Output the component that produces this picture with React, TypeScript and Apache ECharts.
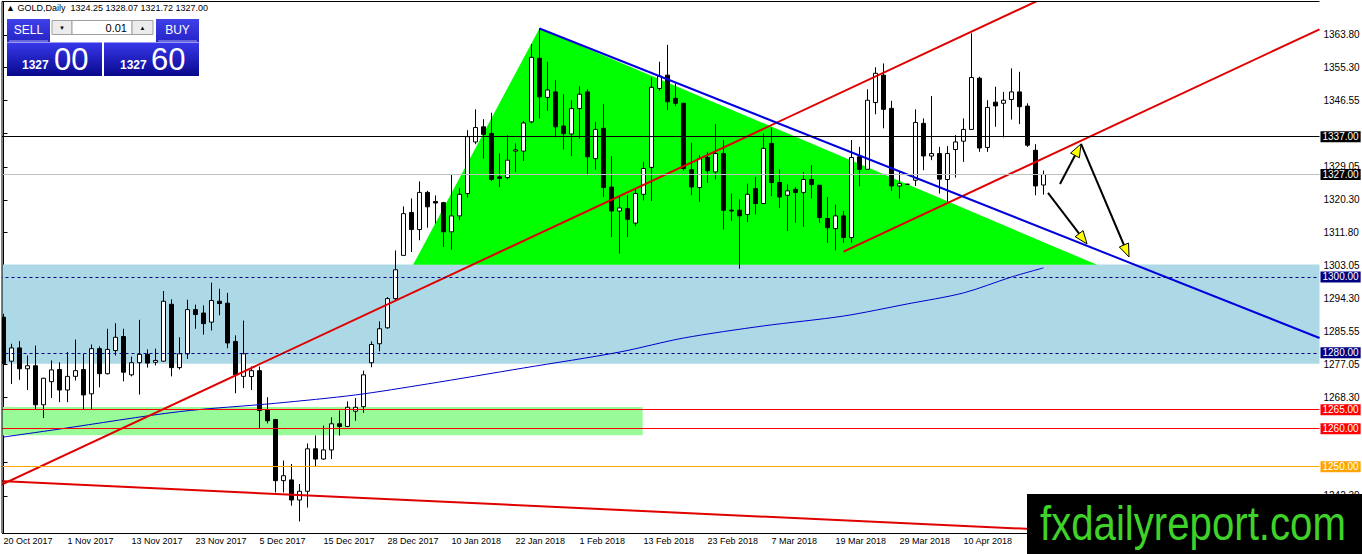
import React, { useEffect, useRef } from "react";
import * as echarts from "echarts";

// date labels, one every 8 daily bars starting at the first bar
const tickLabels = [
  "20 Oct 2017", "1 Nov 2017", "13 Nov 2017", "23 Nov 2017", "5 Dec 2017", "15 Dec 2017",
  "28 Dec 2017", "10 Jan 2018", "22 Jan 2018", "1 Feb 2018", "13 Feb 2018", "23 Feb 2018",
  "7 Mar 2018", "19 Mar 2018", "29 Mar 2018", "10 Apr 2018",
];

const opens = [
  1289.4, 1277.8, 1281.3, 1275.8, 1276.6, 1266.3, 1272.4, 1275.6, 1270.2, 1273.8,
  1275.6, 1269.2, 1281.1, 1274.5, 1280.6, 1284.3, 1274.2, 1277.4, 1279.6, 1277.5,
  1277.8, 1292.8, 1276.1, 1279.75, 1291.4, 1290.5, 1288.1, 1293.6, 1293.1, 1283.0,
  1273.8, 1273.75, 1275.3, 1265.0, 1262.4, 1246.3, 1246.5, 1241.2, 1243.5, 1254.7,
  1252.0, 1254.4, 1261.3, 1260.6, 1264.6, 1265.8, 1277.4, 1282.4, 1286.6, 1294.3,
  1305.7, 1317.0, 1312.5, 1322.3, 1319.9, 1319.6, 1311.9, 1316.1, 1322.0, 1335.6,
  1339.6, 1337.8, 1326.4, 1326.2, 1333.2, 1333.2, 1340.9, 1357.65, 1347.35, 1348.8,
  1339.8, 1337.7, 1344.4, 1348.8, 1331.2, 1339.2, 1323.7, 1317.4, 1318.0, 1314.2,
  1321.8, 1328.9, 1349.7, 1353.2, 1347.1, 1345.8, 1328.3, 1323.6, 1331.5, 1327.7,
  1332.55, 1317.6, 1317.6, 1316.5, 1323.3, 1319.35, 1335.2, 1324.9, 1321.55, 1323.1,
  1322.3, 1325.7, 1324.2, 1315.4, 1312.75, 1316.1, 1310.4, 1331.7, 1328.4, 1346.0,
  1353.2, 1344.45, 1324.0, 1324.45, 1325.5, 1340.5, 1331.9, 1332.55, 1325.7, 1333.6,
  1335.8, 1338.9, 1352.4, 1334.15, 1346.1, 1345.8, 1346.8, 1348.8, 1345.05, 1333.4,
  1324.25,
];

const closes = [
  1277.2, 1281.3, 1275.8, 1276.6, 1266.3, 1273.3, 1275.5, 1270.2, 1273.8, 1275.3,
  1268.9, 1281.1, 1274.5, 1280.9, 1284.1, 1274.9, 1277.4, 1279.6, 1277.3, 1278.0,
  1293.6, 1276.1, 1279.75, 1291.4, 1290.1, 1287.7, 1293.8, 1293.0, 1282.6, 1274.2,
  1279.75, 1275.3, 1264.8, 1262.1, 1246.3, 1247.6, 1241.2, 1243.5, 1254.7, 1252.0,
  1254.4, 1261.3, 1260.6, 1265.65, 1265.65, 1274.2, 1282.2, 1286.35, 1294.3, 1301.9,
  1316.7, 1312.5, 1322.3, 1318.5, 1319.5, 1311.9, 1316.1, 1321.8, 1337.0, 1339.4,
  1337.6, 1325.7, 1326.0, 1330.8, 1333.5, 1340.6, 1357.9, 1347.5, 1349.3, 1339.6,
  1337.8, 1344.4, 1348.2, 1331.7, 1338.9, 1323.6, 1317.4, 1318.2, 1315.2, 1322.0,
  1328.6, 1350.0, 1353.0, 1346.2, 1345.8, 1328.6, 1323.75, 1331.2, 1328.0, 1332.55,
  1317.6, 1317.4, 1316.1, 1321.8, 1319.35, 1333.9, 1324.9, 1321.1, 1322.7, 1322.3,
  1325.7, 1324.4, 1315.7, 1313.0, 1316.1, 1310.4, 1331.5, 1328.4, 1346.6, 1353.7,
  1344.2, 1324.0, 1324.6, 1324.45, 1340.75, 1331.9, 1332.55, 1325.8, 1332.55, 1335.6,
  1338.9, 1352.6, 1334.0, 1344.7, 1345.1, 1346.6, 1348.8, 1344.9, 1334.75, 1324.0,
  1327.0,
];

const lows = [
  1276.7, 1271.8, 1272.9, 1270.2, 1265.0, 1262.8, 1268.1, 1267.0, 1267.0, 1272.7,
  1265.0, 1265.2, 1270.9, 1274.3, 1279.3, 1272.5, 1273.8, 1269.0, 1276.1, 1276.7,
  1277.6, 1273.8, 1275.6, 1278.4, 1286.35, 1284.8, 1285.9, 1289.9, 1281.2, 1269.35,
  1270.7, 1270.2, 1260.2, 1261.4, 1243.2, 1243.2, 1239.7, 1235.55, 1239.2, 1250.0,
  1251.8, 1252.0, 1258.2, 1260.4, 1262.1, 1264.2, 1276.2, 1280.4, 1286.35, 1293.8,
  1305.7, 1306.6, 1309.7, 1313.0, 1314.1, 1307.9, 1307.2, 1315.0, 1320.9, 1335.0,
  1331.2, 1325.3, 1323.7, 1325.7, 1327.7, 1330.6, 1340.5, 1341.8, 1343.8, 1336.8,
  1333.6, 1331.85, 1336.5, 1326.8, 1328.3, 1321.1, 1310.5, 1306.15, 1310.5, 1313.4,
  1320.2, 1320.05, 1349.1, 1344.0, 1345.05, 1328.0, 1321.55, 1319.8, 1324.8, 1325.7,
  1312.5, 1314.8, 1302.2, 1314.5, 1316.5, 1319.3, 1321.3, 1318.2, 1312.1, 1314.3,
  1313.2, 1320.7, 1314.3, 1309.0, 1307.0, 1309.0, 1309.0, 1323.9, 1328.4, 1342.9,
  1339.2, 1322.7, 1320.7, 1324.45, 1324.0, 1328.15, 1330.8, 1322.0, 1319.8, 1326.2,
  1330.35, 1338.9, 1333.0, 1333.0, 1339.6, 1336.8, 1341.5, 1340.3, 1334.3, 1321.55,
  1321.72,
];

const highs = [
  1290.3, 1282.4, 1283.1, 1279.3, 1281.9, 1273.4, 1278.0, 1277.5, 1280.2, 1283.5,
  1279.75, 1282.2, 1281.7, 1286.35, 1287.8, 1286.35, 1279.0, 1288.7, 1280.9, 1281.1,
  1296.3, 1294.1, 1284.1, 1294.0, 1292.7, 1292.5, 1298.5, 1296.9, 1295.8, 1284.6,
  1288.5, 1276.4, 1276.4, 1268.3, 1262.6, 1251.6, 1250.7, 1245.4, 1256.1, 1258.2,
  1260.8, 1263.0, 1264.8, 1267.2, 1268.1, 1275.3, 1283.0, 1288.3, 1294.7, 1307.0,
  1318.6, 1320.7, 1325.2, 1322.7, 1321.5, 1319.8, 1327.1, 1323.5, 1338.7, 1344.2,
  1341.6, 1343.3, 1332.6, 1337.4, 1335.2, 1341.1, 1361.4, 1365.6, 1356.75, 1351.9,
  1348.2, 1346.6, 1350.3, 1349.5, 1340.9, 1345.6, 1331.85, 1321.1, 1321.55, 1323.3,
  1330.35, 1352.6, 1356.75, 1361.2, 1351.05, 1345.9, 1335.4, 1332.1, 1333.0, 1340.3,
  1336.1, 1322.0, 1320.5, 1324.6, 1326.4, 1337.8, 1339.4, 1328.4, 1324.45, 1323.75,
  1327.7, 1329.5, 1324.2, 1321.1, 1319.1, 1317.4, 1336.1, 1334.3, 1349.5, 1355.3,
  1356.3, 1346.45, 1327.7, 1324.45, 1344.2, 1341.8, 1347.7, 1334.3, 1334.5, 1337.4,
  1341.8, 1364.25, 1352.8, 1346.6, 1350.15, 1348.8, 1355.0, 1354.1, 1345.8, 1335.0,
  1328.07,
];

// price scale ticks; the labels hidden behind the level boxes are left out
const yTicks = [
  1363.8, 1355.3, 1346.55, 1337.8, 1329.05, 1320.3, 1311.8, 1303.05,
  1294.3, 1285.55, 1277.05, 1268.3, 1259.55, 1251.05, 1242.3,
];
const yLabels = [
  1363.8, 1355.3, 1346.55, 1329.05, 1320.3, 1311.8, 1303.05,
  1294.3, 1285.55, 1277.05, 1268.3, 1242.3,
];

// horizontal price levels drawn across the chart
const priceLevels = [1337, 1327, 1300, 1280, 1265, 1260, 1250];

// moving average anchors [bar index, price]
const maPoints = [
  [0, 1257.8], [7, 1259.9], [22, 1264.5], [34, 1266.7], [44, 1268.9], [53, 1271.8],
  [65, 1276.0], [77, 1280.2], [85, 1283.9], [95, 1287.1], [105, 1289.7], [113, 1292.9],
  [120, 1295.8], [126, 1300.0], [130, 1302.4],
];

// drawn objects, in [bar index, price]
const blueZone = [1303.3, 1277.1];
const greenZone = [-0.5, 79.9, 1265.7, 1258.3];
const triangle = [[51.2, 1303.2], [67, 1365.6], [136.7, 1303.2]];
const redUpper = [[-0.5, 1245.0], [133, 1376.5]];
const redLower = [[105, 1306.7], [164.5, 1365.3]];
const blueTrend = [[67, 1365.5], [164.5, 1283.9]];
const redBottom = [[-0.5, 1246.2], [140, 1232.4]];
const arrows = [
  [130.56, 1322.16, 135.44, 1308.71],
  [132.06, 1324.53, 134.69, 1335.08],
  [134.69, 1335.08, 140.69, 1305.28],
];

const SLOTS = 165;
const FONT = "Liberation Sans";

function levelStyle(v: number) {
  if (v === 1337) return { line: "#000000", box: "#000000", dashed: false };
  if (v === 1327) return { line: "#c0c0c0", box: "#000000", dashed: false };
  if (v === 1300 || v === 1280) return { line: "#000080", box: "#000080", dashed: true };
  if (v === 1250) return { line: "#ffa500", box: "#ffa500", dashed: false };
  return { line: "#ff0000", box: "#ff0000", dashed: false };
}

export default function App() {
  const chartRef = useRef<HTMLDivElement>(null);

  useEffect(() => {
    document.body.style.margin = "0";
    if (!chartRef.current) return;
    const chart = echarts.init(chartRef.current, null, { renderer: "svg" });

    const cats = Array.from({ length: SLOTS }, (_, i) => String(i));
    const candles = opens.map((o, i) => [o, closes[i], lows[i], highs[i]]);
    const showTick = (i: number) => i % 8 === 0 && i / 8 < tickLabels.length;

    const blueGrad = () =>
      new echarts.graphic.LinearGradient(0, 0, 0, 1, [
        { offset: 0, color: "#3838ec" },
        { offset: 1, color: "#08088c" },
      ]);
    const btnGrad = () =>
      new echarts.graphic.LinearGradient(0, 0, 0, 1, [
        { offset: 0, color: "#4040e8" },
        { offset: 1, color: "#2424c8" },
      ]);

    const trend = (data: number[][], color: string) => ({
      type: "line",
      xAxisIndex: 1,
      data,
      symbol: "none",
      silent: true,
      z: 4,
      lineStyle: { color, width: 2 },
    });

    const option: any = {
      animation: false,
      backgroundColor: "#ffffff",
      textStyle: { fontFamily: FONT },
      grid: { left: -0.5, top: 2, width: 1320, height: 531, outerBoundsMode: "none" },
      xAxis: [
        {
          type: "category",
          data: cats,
          boundaryGap: true,
          axisLine: { lineStyle: { color: "#000", width: 1 } },
          axisTick: {
            alignWithLabel: true,
            interval: (i: number) => showTick(i),
            length: 4,
            lineStyle: { color: "#000" },
          },
          axisLabel: {
            interval: (i: number) => showTick(i),
            formatter: (_v: string, i: number) => tickLabels[i / 8] ?? "",
            align: "left",
            fontSize: 9,
            color: "#000",
            margin: 3,
            fontFamily: FONT,
          },
          splitLine: { show: false },
        },
        { type: "value", min: -0.5, max: SLOTS - 0.5, show: false },
      ],
      yAxis: {
        type: "value",
        position: "right",
        min: 1232.5,
        max: 1372.5,
        axisLine: { show: true, lineStyle: { color: "#000" } },
        axisTick: { show: true, length: 4, customValues: yTicks, lineStyle: { color: "#000" } },
        axisLabel: {
          customValues: yLabels,
          formatter: (v: number) => v.toFixed(2),
          fontSize: 10,
          color: "#000",
          margin: 4,
          fontFamily: FONT,
        },
        splitLine: { show: false },
      },
      series: [
        {
          type: "custom",
          xAxisIndex: 1,
          silent: true,
          clip: true,
          z: 1,
          data: [[0, 1290], [1, 1262], [60, 1320]],
          renderItem: (params: any, api: any) => {
            const i = params.dataIndex;
            if (i === 0) {
              const a = api.coord([-0.5, blueZone[0]]);
              const b = api.coord([SLOTS - 0.5, blueZone[1]]);
              return {
                type: "rect",
                shape: { x: a[0], y: a[1], width: b[0] - a[0], height: b[1] - a[1] },
                style: { fill: "#add8e6" },
              };
            }
            if (i === 1) {
              const a = api.coord([greenZone[0], greenZone[2]]);
              const b = api.coord([greenZone[1], greenZone[3]]);
              return {
                type: "rect",
                shape: { x: a[0], y: a[1], width: b[0] - a[0], height: b[1] - a[1] },
                style: { fill: "#98fb98" },
              };
            }
            return {
              type: "polygon",
              shape: { points: triangle.map((p) => api.coord(p)) },
              style: { fill: "#00ff00" },
            };
          },
        },
        {
          type: "candlestick",
          xAxisIndex: 0,
          data: candles,
          barWidth: 5,
          z: 3,
          itemStyle: {
            color: "#ffffff",
            color0: "#000000",
            borderColor: "#000000",
            borderColor0: "#000000",
            borderWidth: 1,
          },
          markLine: {
            silent: true,
            symbol: ["none", "none"],
            data: priceLevels.map((v) => {
              const s = levelStyle(v);
              return {
                yAxis: v,
                lineStyle: { color: s.line, width: 1, type: s.dashed ? [3, 3] : "solid" },
                label: {
                  show: true,
                  position: "end",
                  distance: 1,
                  formatter: () => v.toFixed(2),
                  backgroundColor: s.box,
                  color: "#ffffff",
                  fontSize: 10,
                  fontFamily: FONT,
                  padding: [1, 2, 0, 2],
                },
              };
            }),
          },
        },
        {
          type: "line",
          xAxisIndex: 1,
          data: maPoints,
          symbol: "none",
          smooth: 0.3,
          silent: true,
          z: 4,
          lineStyle: { color: "#0000cc", width: 1 },
        },
        trend(redUpper, "#e00000"),
        trend(redLower, "#e00000"),
        trend(blueTrend, "#0000dd"),
        trend(redBottom, "#e00000"),
        {
          type: "custom",
          xAxisIndex: 1,
          silent: true,
          z: 5,
          encode: { x: [0, 2], y: [1, 3] },
          data: arrows,
          renderItem: (_params: any, api: any) => {
            const a = api.coord([api.value(0), api.value(1)]);
            const b = api.coord([api.value(2), api.value(3)]);
            const dx = b[0] - a[0];
            const dy = b[1] - a[1];
            const len = Math.hypot(dx, dy) || 1;
            const ux = dx / len;
            const uy = dy / len;
            const hl = 13;
            const hw = 5;
            const bx = b[0] - ux * hl;
            const by = b[1] - uy * hl;
            return {
              type: "group",
              children: [
                {
                  type: "line",
                  shape: { x1: a[0], y1: a[1], x2: bx, y2: by },
                  style: { stroke: "#000", lineWidth: 2 },
                },
                {
                  type: "polygon",
                  shape: {
                    points: [
                      [b[0], b[1]],
                      [bx - uy * hw, by + ux * hw],
                      [bx + uy * hw, by - ux * hw],
                    ],
                  },
                  style: { fill: "#ffff00", stroke: "#000", lineWidth: 1 },
                },
              ],
            };
          },
        },
      ],
      graphic: [
        // frame
        { type: "rect", z: 90, shape: { x: 0, y: 0, width: 2, height: 534 }, style: { fill: "#fff" } },
        { type: "line", z: 91, shape: { x1: 2, y1: 1.5, x2: 1319.5, y2: 1.5 }, style: { stroke: "#000", lineWidth: 1 } },
        { type: "line", z: 91, shape: { x1: 2, y1: 1.5, x2: 2, y2: 533 }, style: { stroke: "#000", lineWidth: 1 } },
        // header
        {
          type: "text",
          z: 100,
          x: 6,
          y: 8,
          style: {
            text: "▲ GOLD,Daily  1324.25 1328.07 1321.72 1327.00",
            fill: "#000",
            font: `9px ${FONT}`,
            verticalAlign: "middle",
          },
        },
        // one-click trading panel
        { type: "rect", z: 100, shape: { x: 7, y: 19, width: 43, height: 23 }, style: { fill: btnGrad() } },
        { type: "text", z: 101, x: 28.5, y: 30, style: { text: "SELL", fill: "#fff", font: `12px ${FONT}`, align: "center", verticalAlign: "middle" } },
        { type: "line", z: 101, shape: { x1: 9, y1: 41, x2: 48, y2: 41 }, style: { stroke: "#a8a8f4", lineWidth: 1 } },
        { type: "rect", z: 100, shape: { x: 52, y: 20.5, width: 20, height: 14 }, style: { fill: "#ececec", stroke: "#a0a0a0", lineWidth: 1 } },
        { type: "text", z: 101, x: 62, y: 27.5, style: { text: "▼", fill: "#000", font: `6px ${FONT}`, align: "center", verticalAlign: "middle" } },
        { type: "rect", z: 100, shape: { x: 72, y: 20.5, width: 60, height: 14 }, style: { fill: "#ffffff", stroke: "#a0a0a0", lineWidth: 1 } },
        { type: "text", z: 101, x: 127, y: 27.5, style: { text: "0.01", fill: "#000", font: `11px ${FONT}`, align: "right", verticalAlign: "middle" } },
        { type: "rect", z: 100, shape: { x: 132, y: 20.5, width: 21, height: 14 }, style: { fill: "#ececec", stroke: "#a0a0a0", lineWidth: 1 } },
        { type: "text", z: 101, x: 142.5, y: 27.5, style: { text: "▲", fill: "#000", font: `6px ${FONT}`, align: "center", verticalAlign: "middle" } },
        { type: "rect", z: 100, shape: { x: 156, y: 19, width: 43, height: 23 }, style: { fill: btnGrad() } },
        { type: "text", z: 101, x: 177.5, y: 30, style: { text: "BUY", fill: "#fff", font: `12px ${FONT}`, align: "center", verticalAlign: "middle" } },
        { type: "line", z: 101, shape: { x1: 158, y1: 41, x2: 197, y2: 41 }, style: { stroke: "#a8a8f4", lineWidth: 1 } },
        { type: "rect", z: 100, shape: { x: 7, y: 42.5, width: 95, height: 33.5 }, style: { fill: blueGrad() } },
        { type: "text", z: 101, x: 22, y: 65, style: { text: "1327", fill: "#fff", font: `bold 12px ${FONT}`, verticalAlign: "middle" } },
        { type: "text", z: 101, x: 54, y: 59, style: { text: "00", fill: "#fff", font: `31px ${FONT}`, verticalAlign: "middle" } },
        { type: "rect", z: 100, shape: { x: 104, y: 42.5, width: 95, height: 33.5 }, style: { fill: blueGrad() } },
        { type: "text", z: 101, x: 120, y: 65, style: { text: "1327", fill: "#fff", font: `bold 12px ${FONT}`, verticalAlign: "middle" } },
        { type: "text", z: 101, x: 151, y: 59, style: { text: "60", fill: "#fff", font: `31px ${FONT}`, verticalAlign: "middle" } },
        // watermark
        { type: "rect", z: 110, shape: { x: 1027, y: 494, width: 335, height: 60 }, style: { fill: "#000" } },
        {
          type: "text",
          z: 111,
          x: 1040,
          y: 523,
          scaleX: 0.82,
          style: { text: "fxdailyreport.com", fill: "#3fd32a", font: `49px ${FONT}`, verticalAlign: "middle" },
        },
      ],
    };

    chart.setOption(option);
    return () => chart.dispose();
  }, []);

  return <div ref={chartRef} style={{ width: 1362, height: 554 }} />;
}
